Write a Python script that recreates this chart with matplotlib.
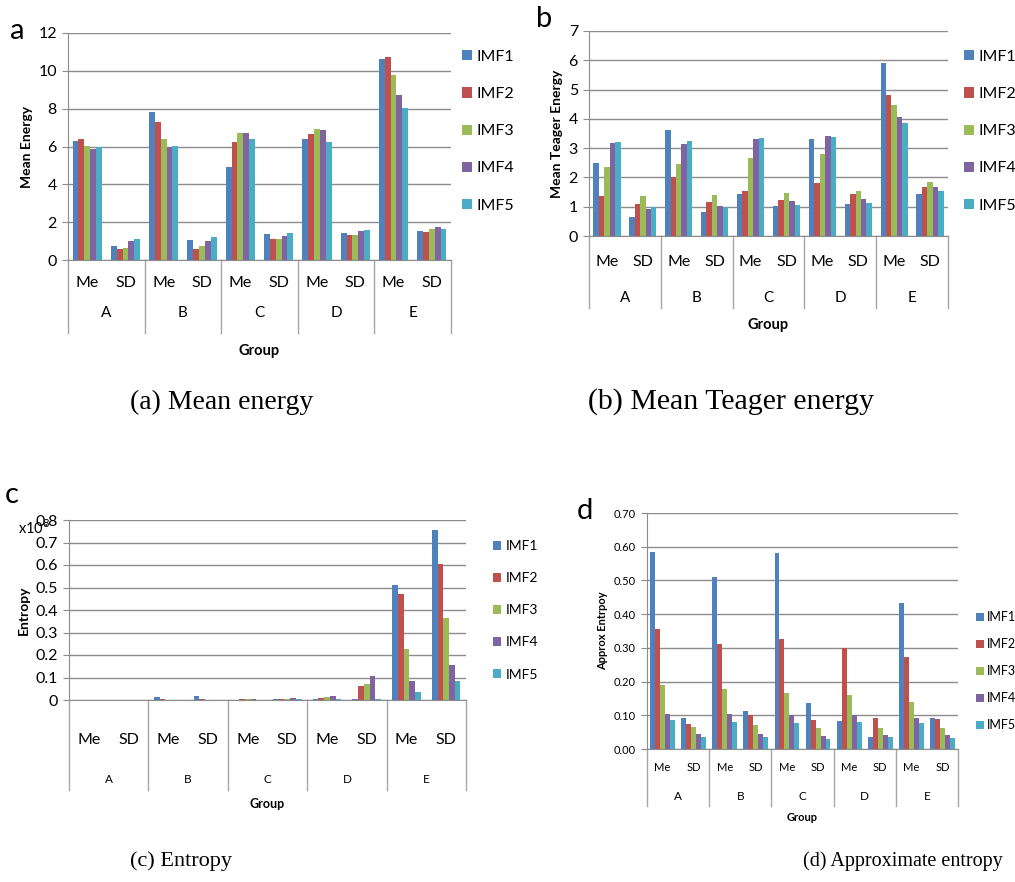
import matplotlib
matplotlib.use('Agg')
import matplotlib.pyplot as plt
import numpy as np

plt.rcParams['font.family'] = ['Lato', 'DejaVu Sans']

groups = ['A', 'B', 'C', 'D', 'E']
stats = ['Me', 'SD']
imf_names = ['IMF1', 'IMF2', 'IMF3', 'IMF4', 'IMF5']
imf_colors = ['#4F81BD', '#C0504D', '#9BBB59', '#8064A2', '#4BACC6']

# each row is one IMF, columns: A-Me, A-SD, B-Me, B-SD, ... E-SD
mean_energy = [
    [6.3, 0.75, 7.8, 1.05, 4.9, 1.35, 6.4, 1.42, 10.65, 1.54],
    [6.4, 0.6, 7.3, 0.6, 6.25, 1.12, 6.65, 1.33, 10.75, 1.5],
    [6.05, 0.65, 6.4, 0.75, 6.7, 1.1, 6.95, 1.33, 9.8, 1.65],
    [5.85, 1.0, 6.0, 1.0, 6.7, 1.25, 6.85, 1.55, 8.7, 1.73],
    [6.0, 1.1, 6.05, 1.2, 6.4, 1.45, 6.25, 1.58, 8.05, 1.65],
]
teager_energy = [
    [2.5, 0.64, 3.62, 0.83, 1.42, 1.03, 3.32, 1.1, 5.91, 1.44],
    [1.37, 1.09, 2.0, 1.15, 1.52, 1.23, 1.8, 1.43, 4.83, 1.66],
    [2.36, 1.36, 2.47, 1.39, 2.67, 1.47, 2.8, 1.55, 4.46, 1.84],
    [3.19, 0.93, 3.15, 1.04, 3.31, 1.19, 3.4, 1.25, 4.08, 1.69],
    [3.2, 0.98, 3.24, 1.0, 3.35, 1.06, 3.38, 1.13, 3.85, 1.52],
]
entropy = [
    [0.0, 0.0, 0.015, 0.018, 0.002, 0.003, 0.005, 0.005, 0.51, 0.755],
    [0.0, 0.0, 0.005, 0.003, 0.003, 0.004, 0.01, 0.062, 0.47, 0.605],
    [0.0, 0.0, 0.002, 0.001, 0.003, 0.005, 0.013, 0.07, 0.225, 0.365],
    [0.0, 0.0, 0.001, 0.001, 0.003, 0.007, 0.016, 0.107, 0.085, 0.155],
    [0.0, 0.002, 0.001, 0.002, 0.002, 0.004, 0.004, 0.005, 0.035, 0.085],
]
approx_entropy = [
    [0.585, 0.093, 0.51, 0.112, 0.58, 0.135, 0.082, 0.035, 0.433, 0.093],
    [0.357, 0.075, 0.31, 0.1, 0.325, 0.087, 0.3, 0.093, 0.272, 0.088],
    [0.19, 0.065, 0.178, 0.07, 0.167, 0.063, 0.16, 0.063, 0.138, 0.062],
    [0.105, 0.045, 0.105, 0.045, 0.1, 0.04, 0.1, 0.042, 0.093, 0.042],
    [0.085, 0.035, 0.08, 0.037, 0.078, 0.03, 0.08, 0.035, 0.077, 0.033],
]

W, H = 1015, 882
fig = plt.figure(figsize=(W / 100, H / 100), dpi=100)


def px_axes(left, right, top, bottom):
    return fig.add_axes([left / W, 1 - bottom / H, (right - left) / W, (bottom - top) / H])


def draw_panel(ax, data, ylim, yticks, ylabel, fmt, fs, sub_y, grp_y, sep_y, lab_y,
               lab_fs, grp_fs, label_fs, fill=0.76):
    n = len(groups) * len(stats)
    x = np.arange(n)
    w = fill / len(imf_names)
    for k, vals in enumerate(data):
        ax.bar(x + (k - 2) * w, vals, w, color=imf_colors[k], label=imf_names[k])
    ax.set_xlim(-0.5, n - 0.5)
    ax.set_ylim(*ylim)
    ax.set_yticks(yticks)
    ax.set_yticklabels([fmt(v) for v in yticks], fontsize=fs)
    ax.yaxis.grid(True, color='#8c8c8c', linewidth=1.0)
    ax.set_axisbelow(True)
    for s in ['top', 'right']:
        ax.spines[s].set_visible(False)
    for s in ['left', 'bottom']:
        ax.spines[s].set_color('#8c8c8c')
    ax.tick_params(axis='y', length=4, color='#8c8c8c', pad=4)
    ax.set_xticks([])
    ax.set_ylabel(ylabel, fontsize=label_fs, fontweight='bold')
    tr = ax.get_xaxis_transform()
    for i in range(n):
        ax.text(i, sub_y, stats[i % 2], transform=tr, ha='center', va='center',
                fontsize=fs)
    for g, name in enumerate(groups):
        ax.text(2 * g + 0.5, grp_y, name, transform=tr, ha='center', va='center',
                fontsize=grp_fs)
    for b in np.arange(-0.5, n, 2):
        ax.plot([b, b], [0, sep_y], transform=tr, color='#a6a6a6', linewidth=1.0,
                clip_on=False)
    ax.text(4.5, lab_y, 'Group', transform=tr, ha='center', va='center',
            fontsize=lab_fs, fontweight='bold')


def add_legend(ax, x, y, fs, spacing):
    ax.legend(loc='upper left', bbox_to_anchor=(x / W, 1 - y / H),
              bbox_transform=fig.transFigure, frameon=False, fontsize=fs,
              handlelength=0.6, handleheight=0.6, handletextpad=0.3,
              labelspacing=spacing, borderaxespad=0, borderpad=0)


# (a) mean energy
ax_a = px_axes(68, 451, 33, 260)
draw_panel(ax_a, mean_energy, (0, 12), np.arange(0, 13, 2), 'Mean Energy',
           lambda v: f'{v:g}', 11.5, -0.10, -0.235, -0.32, -0.40, 10.5, 11, 10)
add_legend(ax_a, 462, 50, 11.5, 1.45)

# (b) mean Teager energy
ax_b = px_axes(589, 948, 31, 236)
draw_panel(ax_b, teager_energy, (0, 7), np.arange(0, 8, 1), 'Mean Teager Energy',
           lambda v: f'{v:g}', 11.5, -0.125, -0.30, -0.35, -0.435, 10.5, 11, 10)
add_legend(ax_b, 964, 50, 11.5, 1.45)

# (c) entropy
ax_c = px_axes(69, 466, 520, 700)
draw_panel(ax_c, entropy, (0, 0.8), np.round(np.arange(0, 0.81, 0.1), 1), 'Entropy',
           lambda v: f'{v:g}', 11.5, -0.22, -0.44, -0.50, -0.58, 9, 8.5, 10, fill=0.72)
add_legend(ax_c, 493, 540, 10, 1.45)

# (d) approximate entropy
ax_d = px_axes(647, 958, 513, 749)
draw_panel(ax_d, approx_entropy, (0, 0.7), np.round(np.arange(0, 0.71, 0.1), 1),
           'Approx Entrpoy', lambda v: f'{v:.2f}', 8, -0.08, -0.20, -0.24, -0.29,
           8, 8.5, 8, fill=0.8)
add_legend(ax_d, 976, 611, 9, 1.2)

# panel letters and the x10^8 note
fig.text(17 / W, 1 - 31 / H, 'a', fontsize=21, ha='center', va='center')
fig.text(544 / W, 1 - 19 / H, 'b', fontsize=21, ha='center', va='center')
fig.text(12 / W, 1 - 495 / H, 'c', fontsize=21, ha='center', va='center')
fig.text(585 / W, 1 - 511 / H, 'd', fontsize=21, ha='center', va='center')
fig.text(18 / W, 1 - 528 / H, 'x10$^8$', fontsize=10.5, ha='left', va='center')

# captions
cap = dict(family='Liberation Serif', ha='left', va='center')
fig.text(130 / W, 1 - 402 / H, '(a) Mean energy', fontsize=20, **cap)
fig.text(588 / W, 1 - 402 / H, '(b) Mean Teager energy', fontsize=21.5, **cap)
fig.text(130 / W, 1 - 861 / H, '(c) Entropy', fontsize=16, **cap)
fig.text(803 / W, 1 - 861 / H, '(d) Approximate entropy', fontsize=14.5, **cap)

fig.savefig('out.png', dpi=100)
